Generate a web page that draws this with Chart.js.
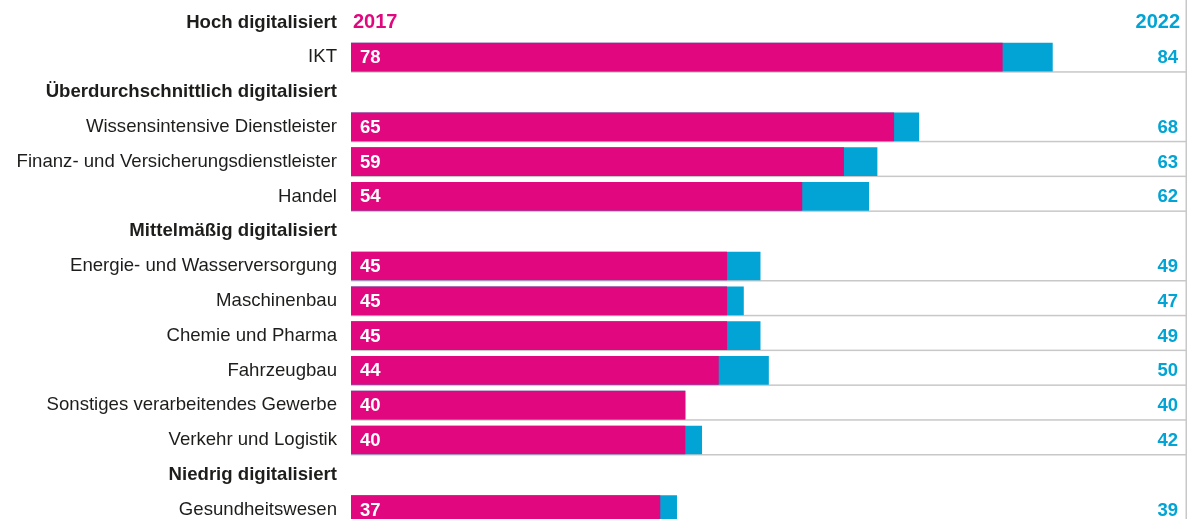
<!DOCTYPE html>
<html lang="de">
<head>
<meta charset="utf-8">
<title>Digitalisierungsindex nach Branchen 2017 und 2022</title>
<script src="https://cdn.jsdelivr.net/npm/chart.js@4.4.1/dist/chart.umd.min.js"></script>
<style>
  html, body { margin: 0; padding: 0; background: #ffffff; overflow: hidden; }
  #wrap { position: absolute; left: 0; top: 0; width: 1189px; height: 527px; }
</style>
</head>
<body>
<div id="wrap"><canvas id="chart"></canvas></div>
<script>
// Branchen, gruppiert nach Digitalisierungsgrad (Gruppenzeilen ohne Balken)
const categories = [
  "Hoch digitalisiert",
  "IKT",
  "Überdurchschnittlich digitalisiert",
  "Wissensintensive Dienstleister",
  "Finanz- und Versicherungsdienstleister",
  "Handel",
  "Mittelmäßig digitalisiert",
  "Energie- und Wasserversorgung",
  "Maschinenbau",
  "Chemie und Pharma",
  "Fahrzeugbau",
  "Sonstiges verarbeitendes Gewerbe",
  "Verkehr und Logistik",
  "Niedrig digitalisiert",
  "Gesundheitswesen"
];
const groupRows = [true, false, true, false, false, false, true, false, false, false, false, false, false, true, false];
const values2017 = [null, 78, null, 65, 59, 54, null, 45, 45, 45, 44, 40, 40, null, 37];
const values2022 = [null, 84, null, 68, 63, 62, null, 49, 47, 49, 50, 40, 42, null, 39];
const seriesLabels = ["2017", "2022"];

const MAGENTA = "#e1087f";
const BLUE = "#01a4d4";
const TEXT = "#1d1d1b";
const FONT = "'Liberation Sans', Arial, Helvetica, sans-serif";

// Trennlinien unter den Balken und rechte Begrenzungslinie
const rulesPlugin = {
  id: "rules",
  beforeDatasetsDraw(chart) {
    const { ctx, chartArea } = chart;
    const meta = chart.getDatasetMeta(0);
    ctx.save();
    ctx.fillStyle = "#c8c8c8";
    meta.data.forEach((bar, i) => {
      if (values2017[i] === null) return;
      const bottom = bar.y + bar.height / 2;
      ctx.fillRect(chartArea.left, bottom, chartArea.right - chartArea.left, 1.5);
    });
    ctx.fillRect(chartArea.right - 0.5, 0, 1.5, chart.height);
    ctx.restore();
  }
};

// Jahreszahlen und Wertebeschriftungen
const labelsPlugin = {
  id: "valueLabels",
  afterDatasetsDraw(chart) {
    const { ctx, chartArea } = chart;
    const yScale = chart.scales.y;
    const meta = chart.getDatasetMeta(0);
    ctx.save();
    ctx.textBaseline = "middle";

    const headY = yScale.getPixelForValue(0);
    ctx.font = "bold 20px " + FONT;
    ctx.fillStyle = MAGENTA;
    ctx.textAlign = "left";
    ctx.fillText(seriesLabels[0], chartArea.left + 2, headY);
    ctx.fillStyle = BLUE;
    ctx.textAlign = "right";
    ctx.fillText(seriesLabels[1], chartArea.right - 6, headY);

    ctx.font = "bold 18.5px " + FONT;
    meta.data.forEach((bar, i) => {
      if (values2017[i] === null) return;
      const y = bar.y + 1;
      ctx.fillStyle = "#ffffff";
      ctx.textAlign = "left";
      ctx.fillText(String(values2017[i]), chartArea.left + 9, y);
      ctx.fillStyle = BLUE;
      ctx.textAlign = "right";
      ctx.fillText(String(values2022[i]), chartArea.right - 8, y);
    });
    ctx.restore();
  }
};

new Chart(document.getElementById("chart"), {
  type: "bar",
  data: {
    labels: categories,
    datasets: [
      {
        label: seriesLabels[0],
        data: values2017,
        backgroundColor: MAGENTA,
        grouped: false,
        order: 0,
        barThickness: 28
      },
      {
        label: seriesLabels[1],
        data: values2022,
        backgroundColor: BLUE,
        grouped: false,
        order: 1,
        barThickness: 28
      }
    ]
  },
  options: {
    indexAxis: "y",
    responsive: true,
    maintainAspectRatio: false,
    animation: false,
    layout: { padding: { top: 5, right: 3, bottom: 0, left: 0 } },
    plugins: {
      legend: { display: false },
      tooltip: { enabled: false }
    },
    scales: {
      x: {
        display: false,
        min: 0,
        max: 100
      },
      y: {
        grid: { display: false, drawTicks: false },
        border: { display: false },
        afterFit(scale) {
          scale.width = 351;
          scale.paddingTop = 0;
          scale.paddingBottom = 0;
        },
        ticks: {
          padding: 14,
          color: TEXT,
          autoSkip: false,
          font: (c) => ({
            family: FONT,
            size: 18.6,
            weight: groupRows[c.index] ? "bold" : "normal"
          })
        }
      }
    }
  },
  plugins: [rulesPlugin, labelsPlugin]
});
</script>
</body>
</html>
